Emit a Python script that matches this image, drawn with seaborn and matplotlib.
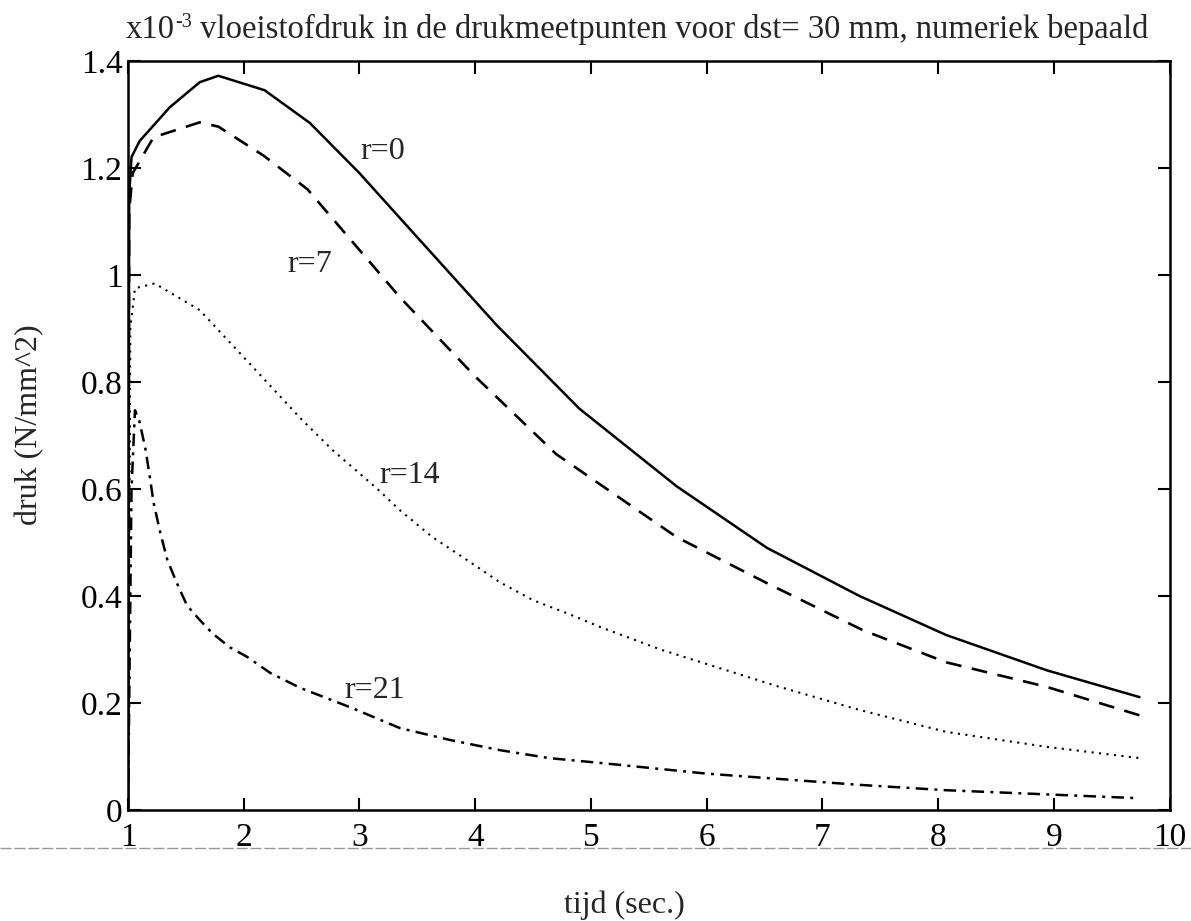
import numpy as np
import pandas as pd
import matplotlib
matplotlib.use("Agg")
import matplotlib.pyplot as plt
from matplotlib.lines import Line2D
from matplotlib.ticker import FuncFormatter
import seaborn as sns

# ---- data ----
t_r0 = [1.0, 1.01, 1.03, 1.10, 1.36, 1.62, 1.78, 2.18, 2.57, 3.0, 3.4, 4.19, 4.9, 5.74, 6.52, 7.32, 8.07, 8.94, 9.74]
p_r0 = [0.0, 1.15, 1.22, 1.25, 1.313, 1.36, 1.372, 1.345, 1.284, 1.19, 1.094, 0.905, 0.75, 0.605, 0.49, 0.40, 0.327, 0.261, 0.211]

t_r7 = [1.0, 1.01, 1.04, 1.22, 1.62, 1.78, 2.17, 2.55, 3.35, 4.0, 4.7, 5.74, 6.52, 7.35, 8.07, 8.94, 9.74]
p_r7 = [0.0, 1.12, 1.19, 1.257, 1.285, 1.277, 1.223, 1.16, 0.958, 0.81, 0.665, 0.51, 0.424, 0.336, 0.276, 0.23, 0.177]

t_r14 = [1.0, 1.02, 1.06, 1.23, 1.62, 1.84, 1.97, 2.49, 2.77, 3.15, 3.35, 3.63, 3.93, 4.21, 4.50, 4.79, 5.08, 5.6, 6.6, 7.32, 8.07, 8.94, 9.74]
p_r14 = [0.0, 0.90, 0.975, 0.984, 0.934, 0.883, 0.853, 0.732, 0.672, 0.601, 0.56, 0.51, 0.467, 0.426, 0.392, 0.368, 0.342, 0.30, 0.232, 0.187, 0.146, 0.118, 0.097]

t_r21 = [1.0, 1.03, 1.06, 1.10, 1.15, 1.19, 1.22, 1.28, 1.34, 1.42, 1.51, 1.62, 1.73, 1.88, 2.03, 2.23, 2.49, 2.92, 3.35, 3.78, 4.21, 4.64, 5.08, 6.0, 7.32, 8.07, 9.74]
p_r21 = [0.0, 0.60, 0.747, 0.725, 0.675, 0.620, 0.575, 0.517, 0.467, 0.425, 0.382, 0.355, 0.33, 0.304, 0.286, 0.256, 0.228, 0.192, 0.153, 0.131, 0.112, 0.097, 0.088, 0.068, 0.047, 0.037, 0.022]

series_names = ["r=0", "r=7", "r=14", "r=21"]
label_pos_t = [3.2, 2.57, 3.43, 3.13]
label_pos_p = [1.23, 1.02, 0.626, 0.224]

x_ticks = [1, 2, 3, 4, 5, 6, 7, 8, 9, 10]
y_ticks = [0, 0.2, 0.4, 0.6, 0.8, 1.0, 1.2, 1.4]

title_prefix = "x10"
title_exp = "-3"
title_rest = " vloeistofdruk in de drukmeetpunten voor dst= 30 mm, numeriek bepaald"
xlabel = "tijd (sec.)"
ylabel = "druk (N/mm^2)"

# ---- style ----
sns.set_style("ticks")
plt.rcParams["font.family"] = ["Liberation Serif", "DejaVu Serif"]

fig = plt.figure(figsize=(11.91, 9.21), dpi=100)
ax = fig.add_axes([0.1075, 0.1205, 0.8745, 0.8135])

series_t = [t_r0, t_r7, t_r14, t_r21]
series_p = [p_r0, p_r7, p_r14, p_r21]
styles = ["-", (0, (6, 4)), (0, (1, 2.6)), (0, (5, 2.5, 1.2, 2.5))]
widths = [1.8, 1.9, 1.5, 1.8]

for name, tt, pp, ls, lw in zip(series_names, series_t, series_p, styles, widths):
    df = pd.DataFrame({"t": tt, "p": pp})
    sns.lineplot(data=df, x="t", y="p", ax=ax, color="black", sort=False,
                 estimator=None, linewidth=lw, linestyle=ls)

for name, lt, lp in zip(series_names, label_pos_t, label_pos_p):
    ax.text(lt, lp, name, fontsize=23, ha="center", va="center")

ax.set_xlim(1, 10)
ax.set_ylim(0, 1.4)
ax.set_xticks(x_ticks)
ax.set_yticks(y_ticks)
ax.yaxis.set_major_formatter(FuncFormatter(lambda v, _: f"{v:g}"))
ax.xaxis.set_major_formatter(FuncFormatter(lambda v, _: f"{v:g}"))
ax.tick_params(direction="in", length=9, width=1.5, top=True, right=True,
               labelsize=24, colors="black")
ax.tick_params(axis="x", pad=9)
ax.tick_params(axis="y", pad=4)
for s in ax.spines.values():
    s.set_visible(True)
    s.set_linewidth(1.8)
    s.set_color("black")

# title built from three pieces so that the exponent keeps a plain hyphen
fig.canvas.draw()
renderer = fig.canvas.get_renderer()
base_y = 1 - 38 / 921
fs = 23.5
t1 = fig.text(0, base_y, title_prefix, fontsize=fs, va="baseline", ha="left")
t2 = fig.text(0, base_y + 11 / 921, title_exp, fontsize=fs * 0.62, va="baseline", ha="left")
t3 = fig.text(0, base_y, title_rest, fontsize=fs, va="baseline", ha="left")
w1 = t1.get_window_extent(renderer).width
w2 = t2.get_window_extent(renderer).width
w3 = t3.get_window_extent(renderer).width
total = w1 + w2 + w3
x0 = 637 - total / 2
t1.set_x(x0 / 1191)
t2.set_x((x0 + w1) / 1191)
t3.set_x((x0 + w1 + w2) / 1191)

ax.set_xlabel(xlabel, fontsize=23)
ax.xaxis.label.set_va("center")
ax.xaxis.set_label_coords(0.477, (810 - 905) / 749)
ax.set_ylabel(ylabel, fontsize=23)
ax.yaxis.label.set_va("center")
ax.yaxis.set_label_coords((30 - 128) / 1042, 0.514)

# faint horizontal rule below the axis (present in the reference)
fig.add_artist(Line2D([0.0, 1.0], [1 - 848 / 921, 1 - 848 / 921],
                      transform=fig.transFigure, color="#999999",
                      linewidth=1.0, linestyle=(0, (8, 2))))

fig.savefig("out.png", dpi=100, facecolor="white")
